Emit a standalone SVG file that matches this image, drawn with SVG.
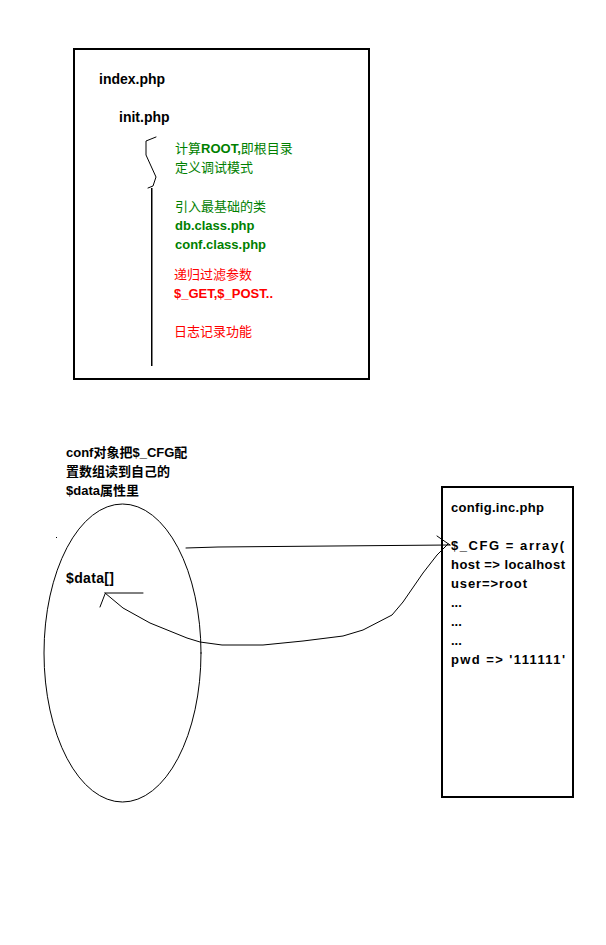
<svg xmlns="http://www.w3.org/2000/svg" width="606" height="945" viewBox="0 0 606 945">
<style>
.t{font-family:"Liberation Sans","Noto Sans CJK SC",sans-serif;font-size:13px;font-weight:bold;fill:#000}
.big{font-size:14px}
.g{fill:#008000}
.r{fill:#ff0000}
.cj{font-weight:normal}
.box{fill:none;stroke:#000;stroke-width:2}
.ln{fill:none;stroke:#000;stroke-width:1;stroke-linejoin:round;stroke-linecap:round}
</style>
<rect width="606" height="945" fill="#fff"/>
<g id="index-box">
<rect class="box" x="74" y="49" width="295" height="330"/>
<text class="t big" x="99" y="84">index.php</text>
<text class="t big" x="119" y="122">init.php</text>
</g>
<g id="init-steps">
<path class="ln" d="M156,137 L146,141 L146,155 L151,166 L156,177 L153,186 L148,188"/>
<line x1="151.75" y1="188" x2="151.75" y2="366" stroke="#000" stroke-width="1.5"/>
<text class="t g" x="175" y="153"><tspan class="cj">计算</tspan>ROOT,<tspan class="cj">即根目录</tspan></text>
<text class="t g cj" x="175" y="172">定义调试模式</text>
<text class="t g cj" x="175" y="211">引入最基础的类</text>
<text class="t g" x="175" y="230">db.class.php</text>
<text class="t g" x="175" y="249">conf.class.php</text>
<text class="t r cj" x="174" y="279">递归过滤参数</text>
<text class="t r" x="174" y="298">$_GET,$_POST..</text>
<text class="t r cj" x="174" y="336">日志记录功能</text>
</g>
<g id="conf-note">
<text class="t" x="66" y="457">conf对象把$_CFG配</text>
<text class="t" x="66" y="476">置数组读到自己的</text>
<text class="t" x="66" y="495">$data属性里</text>
<rect x="56" y="537" width="1" height="1" fill="#000"/>
</g>
<g id="conf-object">
<ellipse class="ln" cx="122.5" cy="653" rx="78.5" ry="149"/>
<text class="t big" x="66" y="583" textLength="48" lengthAdjust="spacing">$data[]</text>
</g>
<g id="config-box">
<rect class="box" x="442" y="487" width="131" height="310"/>
<text class="t" x="451" y="512" textLength="93" lengthAdjust="spacing">config.inc.php</text>
<text class="t" x="451" y="550" textLength="113" lengthAdjust="spacing">$_CFG = array(</text>
<text class="t" x="451" y="569" textLength="114" lengthAdjust="spacing">host =&gt; localhost</text>
<text class="t" x="451" y="588" textLength="76" lengthAdjust="spacing">user=&gt;root</text>
<text class="t" x="451" y="607">...</text>
<text class="t" x="451" y="626">...</text>
<text class="t" x="451" y="645">...</text>
<text class="t" x="451" y="664" textLength="114" lengthAdjust="spacing">pwd =&gt; '111111'</text>
</g>
<g id="connectors">
<polyline class="ln" points="186,548 218,547 450,545"/>
<line class="ln" x1="437" y1="536" x2="450" y2="545"/>
<polyline class="ln" points="448,544 437,555 423,573 403,602 392,615 363,630 343,636 303,641 263,645 222,645 200,642 187,638 150,623 123,608 105,593"/>
<line class="ln" x1="105" y1="593" x2="143" y2="593"/>
<line class="ln" x1="105" y1="594" x2="100" y2="607"/>
</g>
</svg>
